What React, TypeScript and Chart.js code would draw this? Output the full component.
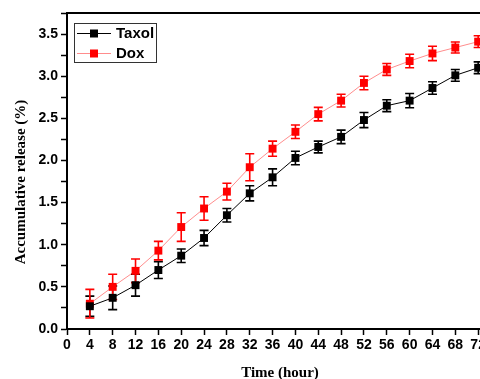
import React, { useEffect, useRef } from "react";
import { Chart, registerables } from "chart.js";

Chart.register(...registerables);

const hours = [4, 8, 12, 16, 20, 24, 28, 32, 36, 40, 44, 48, 52, 56, 60, 64, 68, 72];
const taxol = [0.27, 0.37, 0.52, 0.70, 0.87, 1.08, 1.35, 1.61, 1.80, 2.03, 2.16, 2.28, 2.48, 2.65, 2.71, 2.86, 3.01, 3.10];
const taxolErr = [0.12, 0.14, 0.13, 0.10, 0.08, 0.09, 0.08, 0.09, 0.10, 0.08, 0.07, 0.08, 0.09, 0.07, 0.085, 0.075, 0.07, 0.07];
const dox = [0.30, 0.50, 0.69, 0.93, 1.21, 1.43, 1.63, 1.92, 2.14, 2.34, 2.55, 2.71, 2.92, 3.08, 3.18, 3.27, 3.34, 3.41];
const doxErr = [0.17, 0.15, 0.14, 0.11, 0.17, 0.14, 0.10, 0.16, 0.09, 0.08, 0.08, 0.075, 0.08, 0.07, 0.08, 0.085, 0.065, 0.07];
const seriesNames = ["Taxol", "Dox"];
const xTitle = "Time (hour)";
const yTitle = "Accumulative release (%)";

const errors = [taxolErr, doxErr];
const barColors = ["#000000", "#ff0000"];

const errorBarPlugin = {
  id: "errorBars",
  beforeDatasetsDraw(chart: any) {
    const ctx = chart.ctx;
    const ys = chart.scales.y;
    chart.data.datasets.forEach((ds: any, di: number) => {
      const meta = chart.getDatasetMeta(di);
      ctx.save();
      ctx.strokeStyle = barColors[di];
      ctx.lineWidth = 1.6;
      meta.data.forEach((pt: any, i: number) => {
        const v = ds.data[i].y;
        const e = errors[di][i];
        const x = pt.x;
        const y1 = ys.getPixelForValue(v + e);
        const y2 = ys.getPixelForValue(v - e);
        ctx.beginPath();
        ctx.moveTo(x, y1);
        ctx.lineTo(x, y2);
        ctx.moveTo(x - 4.5, y1);
        ctx.lineTo(x + 4.5, y1);
        ctx.moveTo(x - 4.5, y2);
        ctx.lineTo(x + 4.5, y2);
        ctx.stroke();
      });
      ctx.restore();
    });
  },
};

const decorPlugin = {
  id: "decor",
  afterDraw(chart: any) {
    const ctx = chart.ctx;
    const a = chart.chartArea;
    ctx.save();
    // top border
    ctx.strokeStyle = "#000";
    ctx.lineWidth = 2;
    ctx.beginPath();
    ctx.moveTo(a.left - 1, a.top);
    ctx.lineTo(a.right, a.top);
    ctx.stroke();
    // legend
    ctx.lineWidth = 1;
    ctx.strokeStyle = "#333";
    ctx.strokeRect(74.5, 23.5, 82, 39);
    const rows = [33, 53];
    const lineCols = ["#000000", "rgba(255,0,0,0.45)"];
    rows.forEach((ry, i) => {
      ctx.strokeStyle = lineCols[i];
      ctx.lineWidth = 1;
      ctx.beginPath();
      ctx.moveTo(77, ry + 0.5);
      ctx.lineTo(111, ry + 0.5);
      ctx.stroke();
      ctx.fillStyle = barColors[i];
      ctx.fillRect(90, ry - 3.5, 8, 8);
      ctx.fillStyle = "#000";
      ctx.font = "bold 15px 'Liberation Sans', Arial, sans-serif";
      ctx.textBaseline = "middle";
      ctx.textAlign = "left";
      ctx.fillText(seriesNames[i], 116, ry + 1);
    });
    // axis titles
    ctx.fillStyle = "#000";
    ctx.font = "bold 15px 'Liberation Serif', 'Times New Roman', serif";
    ctx.textAlign = "center";
    ctx.textBaseline = "middle";
    ctx.fillText(xTitle, 280, 373);
    ctx.translate(21, 182);
    ctx.rotate(-Math.PI / 2);
    ctx.fillText(yTitle, 0, 0);
    ctx.restore();
  },
};

export default function App() {
  const ref = useRef<HTMLCanvasElement>(null);
  useEffect(() => {
    if (!ref.current) return;
    const tickFont = { family: "'Liberation Sans', Arial, sans-serif", size: 14, weight: "bold" as const };
    const chart = new Chart(ref.current, {
      type: "line",
      data: {
        datasets: [
          {
            label: seriesNames[0],
            data: hours.map((h, i) => ({ x: h, y: taxol[i] })),
            borderColor: "#000000",
            backgroundColor: "#000000",
            borderWidth: 1,
            pointStyle: "rect",
            pointRadius: 5.6,
            pointBorderWidth: 0,
            tension: 0,
          },
          {
            label: seriesNames[1],
            data: hours.map((h, i) => ({ x: h, y: dox[i] })),
            borderColor: "rgba(255,0,0,0.45)",
            backgroundColor: "#ff0000",
            borderWidth: 1,
            pointStyle: "rect",
            pointRadius: 5.6,
            pointBorderWidth: 0,
            tension: 0,
          },
        ],
      },
      options: {
        responsive: false,
        animation: false,
        devicePixelRatio: 1,
        layout: { padding: { top: 13, left: 0, right: 29, bottom: 0 } },
        plugins: { legend: { display: false }, tooltip: { enabled: false } },
        scales: {
          x: {
            type: "linear",
            min: 0,
            max: 76,
            afterFit: (s: any) => { s.height = 50; },
            ticks: { stepSize: 4, color: "#000", font: tickFont, padding: 2, maxRotation: 0, autoSkip: false },
            grid: { drawOnChartArea: false, drawTicks: true, tickLength: 6, tickColor: "#000", tickWidth: 1.5 },
            border: { display: true, color: "#000", width: 2 },
          },
          y: {
            type: "linear",
            min: 0,
            max: 3.75,
            afterFit: (s: any) => { s.width = 67; },
            ticks: {
              stepSize: 0.25,
              color: "#000",
              font: tickFont,
              padding: 3,
              autoSkip: false,
              callback: (v: any) => {
                const n = Number(v);
                return Math.abs(n * 2 - Math.round(n * 2)) < 1e-6 ? n.toFixed(1) : "";
              },
            },
            grid: { drawOnChartArea: false, drawTicks: true, tickLength: 6, tickColor: "#000", tickWidth: 1.5 },
            border: { display: true, color: "#000", width: 2 },
          },
        },
      },
      plugins: [errorBarPlugin, decorPlugin],
    });
    return () => chart.destroy();
  }, []);
  return (
    <div style={{ position: "fixed", left: 0, top: 0, width: 480, height: 379, overflow: "hidden", background: "#fff" }}>
      <canvas ref={ref} width={530} height={379} style={{ display: "block", width: 530, height: 379 }} />
    </div>
  );
}
